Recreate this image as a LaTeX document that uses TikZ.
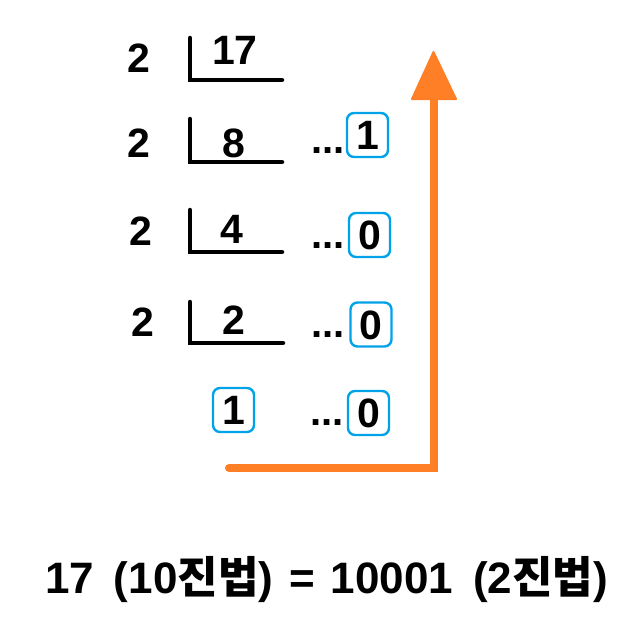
\documentclass[tikz,border=0pt]{standalone}
\usepackage{fontspec}
\setmainfont{Liberation Sans}
\newfontfamily\kr{Noto Sans CJK KR Bold}
\definecolor{boxblue}{RGB}{0,162,232}
\definecolor{arroworange}{RGB}{255,127,39}
\begin{document}
\begin{tikzpicture}[x=1pt,y=-1pt,
  dig/.style={font=\fontsize{41}{41}\selectfont\bfseries, anchor=base, inner sep=0pt},
  dots/.style={font=\fontsize{40}{40}\selectfont\bfseries, anchor=base, inner sep=0pt},
  remb/.style={draw=boxblue, line width=2.4pt, rounded corners=7pt, minimum width=41pt, minimum height=44pt,
    inner sep=0pt, text height=29.3pt, text depth=0pt, font=\fontsize{41}{41}\selectfont\bfseries},
  bracket/.style={line width=4.5pt, line cap=round, line join=miter},
  orangeline/.style={draw=arroworange, line width=8pt, line cap=round, line join=miter},
  orangehead/.style={fill=arroworange, draw=arroworange, line width=2pt, line join=round},
  result/.style={font=\fontsize{44}{44}\selectfont\bfseries, anchor=base, inner sep=0pt}]
\useasboundingbox (0,0) rectangle (642,626);
% row 1
\node[dig] (d1) at (139,73) {2};
\node[dig] (q1) at (235,65) {17};
\draw[bracket] (190,38) -- (190,80) -- (282,80);
% row 2
\node[dig] (d2) at (139,157) {2};
\node[dig] (q2) at (234,157) {8};
\draw[bracket] (190,119) -- (190,162) -- (282,162);
\node[dots] (t2) at (328,153) {...};
\node[remb] (r2) at (367.5,135) {1};
% row 3
\node[dig] (d3) at (141,245) {2};
\node[dig] (q3) at (232,243) {4};
\draw[bracket] (190,210) -- (190,252) -- (282,252);
\node[dots] (t3) at (328,248) {...};
\node[remb] (r3) at (369.5,235) {0};
% row 4
\node[dig] (d4) at (143,336) {2};
\node[dig] (q4) at (234,334) {2};
\draw[bracket] (190,302) -- (190,343) -- (283,343);
\node[dots] (t4) at (328,337) {...};
\node[remb] (r4) at (371,324.5) {0};
% row 5
\node[remb] (q5) at (233.5,410) {1};
\node[dots] (t5) at (327,425) {...};
\node[remb] (r5) at (368.5,413) {0};
% arrow
\coordinate (as) at (229,468);
\coordinate (ac) at (433.5,468);
\coordinate (ae) at (433.5,98);
\coordinate (hl) at (412,99);
\coordinate (ht) at (433.5,52);
\coordinate (hr) at (456,99);
\draw[orangeline] (as) -- (ac) -- (ae);
\filldraw[orangehead] (hl) -- (ht) -- (hr) -- cycle;
% result
\node[result] (res) at (326.5,593) {17\hspace{20pt}(10{\kr 진법})\hspace{16pt}=\hspace{16pt}10001\hspace{20pt}(2{\kr 진법})};
\end{tikzpicture}
\end{document}
